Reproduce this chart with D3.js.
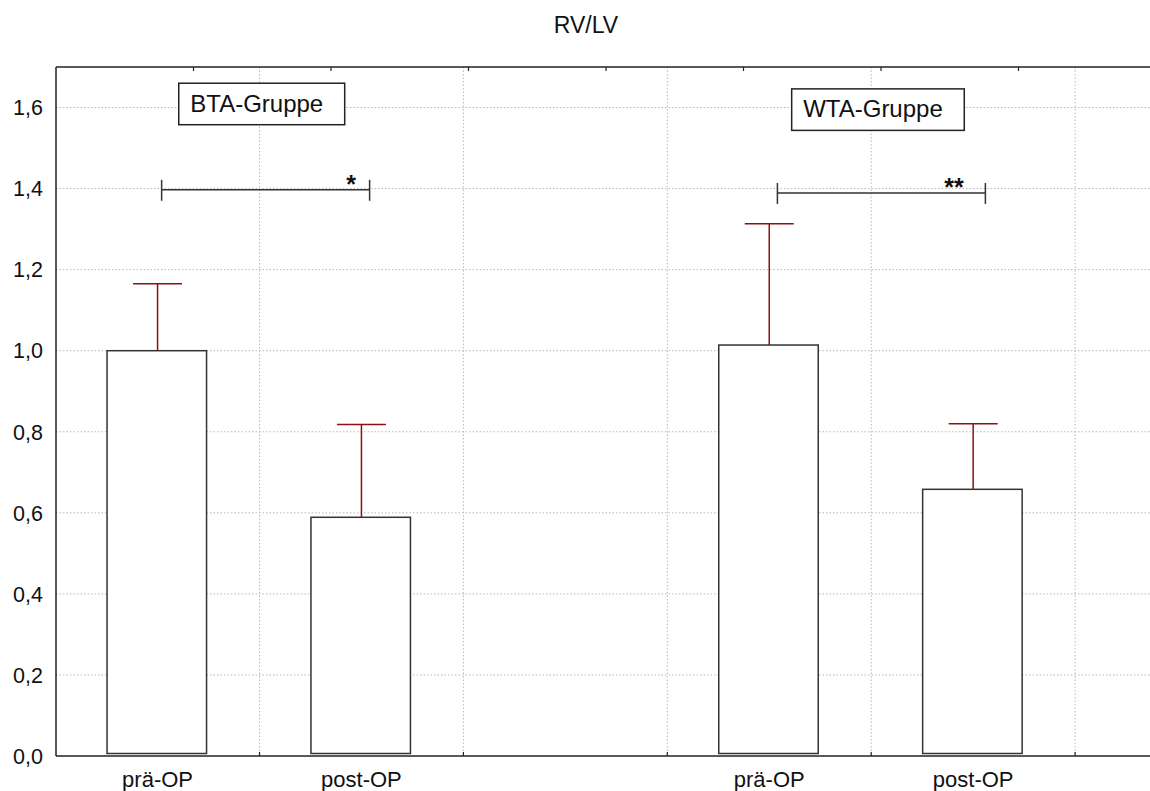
<!DOCTYPE html>
<html>
<head>
<meta charset="utf-8">
<script src="https://cdn.jsdelivr.net/npm/d3@7"></script>
<style>
  body { margin: 0; background: #fff; }
  svg { display: block; font-family: "Liberation Sans", Arial, sans-serif; }
</style>
</head>
<body>
<svg width="1150" height="791"></svg>
<script>
var width = 1150;
var height = 791;
var margin = {left: 56, top: 67, bottom: 35};

// data
var slots      = [1, 2, 4, 5];
var categories = ["prä-OP", "post-OP", "prä-OP", "post-OP"];
var means      = [1.000, 0.589, 1.014, 0.658];
var upperErr   = [1.165, 0.818, 1.313, 0.820];
var yTicks     = [0, 0.2, 0.4, 0.6, 0.8, 1.0, 1.2, 1.4, 1.6];
var xGrid      = [1.5, 2.5, 3.5, 4.5, 5.5];
var topTicks   = [1, 2, 3, 4, 5, 6, 7];

var groupNames = ["BTA-Gruppe", "WTA-Gruppe"];
var groupBoxX  = [1.104, 4.11];
var groupBoxY  = [1.660, 1.646];

var sigFrom  = [1.02, 4.04];
var sigTo    = [2.04, 5.06];
var sigLevel = [1.397, 1.389];
var sigText  = ["*", "**"];
var sigTextX = [1.949, 4.906];

// scales
var y = d3.scaleLinear().domain([0, 1.7]).range([756, margin.top]);
var x = d3.scaleLinear().domain([0.5, 1.5]).range([55.6, 259.5]);
var xTop = d3.scaleLinear().domain([0, 8]).range([56, 1156]);
var plotRight = 1160;

var svg = d3.select('svg');

// grid
svg.append('g').selectAll('line')
  .data(yTicks.filter(function (d) { return d > 0; }))
  .enter().append('line')
  .attr('x1', margin.left).attr('x2', plotRight)
  .attr('y1', function (d) { return y(d); })
  .attr('y2', function (d) { return y(d); })
  .attr('stroke', '#b8b8b8').attr('stroke-width', 1)
  .attr('stroke-dasharray', '1.5,2');

svg.append('g').selectAll('line')
  .data(xGrid)
  .enter().append('line')
  .attr('x1', function (d) { return x(d); })
  .attr('x2', function (d) { return x(d); })
  .attr('y1', y(1.7)).attr('y2', y(0))
  .attr('stroke', '#b8b8b8').attr('stroke-width', 1)
  .attr('stroke-dasharray', '1.5,2');

// bars
svg.append('g').selectAll('rect')
  .data(means)
  .enter().append('rect')
  .attr('x', function (d, i) { return x(slots[i]) - 50.5; })
  .attr('width', 99.5)
  .attr('y', function (d) { return y(d); })
  .attr('height', function (d) { return y(0) - 2.5 - y(d); })
  .attr('fill', '#fff')
  .attr('stroke', '#333').attr('stroke-width', 1.5);

// error bars
var err = svg.append('g').attr('stroke', '#8b1010').attr('stroke-width', 1.5);
err.selectAll('.stem')
  .data(upperErr)
  .enter().append('line')
  .attr('class', 'stem')
  .attr('x1', function (d, i) { return x(slots[i]); })
  .attr('x2', function (d, i) { return x(slots[i]); })
  .attr('y1', function (d, i) { return y(means[i]); })
  .attr('y2', function (d) { return y(d); });
err.selectAll('.cap')
  .data(upperErr)
  .enter().append('line')
  .attr('class', 'cap')
  .attr('x1', function (d, i) { return x(slots[i]) - 24.5; })
  .attr('x2', function (d, i) { return x(slots[i]) + 24.5; })
  .attr('y1', function (d) { return y(d); })
  .attr('y2', function (d) { return y(d); });

// frame (left, top, bottom)
var frame = svg.append('g').attr('stroke', '#222').attr('stroke-width', 1.5);
frame.append('line').attr('x1', margin.left).attr('x2', plotRight)
  .attr('y1', y(1.7)).attr('y2', y(1.7));
frame.append('line').attr('x1', margin.left).attr('x2', plotRight)
  .attr('y1', y(0)).attr('y2', y(0));
frame.append('line').attr('x1', margin.left).attr('x2', margin.left)
  .attr('y1', y(1.7)).attr('y2', y(0));

// small inward ticks
svg.append('g').selectAll('line')
  .data(topTicks)
  .enter().append('line')
  .attr('x1', function (d) { return xTop(d); })
  .attr('x2', function (d) { return xTop(d); })
  .attr('y1', y(1.7)).attr('y2', y(1.7) + 4)
  .attr('stroke', '#222').attr('stroke-width', 1.2);
svg.append('g').selectAll('line')
  .data(xGrid)
  .enter().append('line')
  .attr('x1', function (d) { return x(d); })
  .attr('x2', function (d) { return x(d); })
  .attr('y1', y(0)).attr('y2', y(0) - 4)
  .attr('stroke', '#222').attr('stroke-width', 1.2);

// y axis labels
svg.append('g').selectAll('text')
  .data(yTicks)
  .enter().append('text')
  .attr('x', margin.left - 13)
  .attr('y', function (d) { return y(d); })
  .attr('dy', '0.36em')
  .attr('text-anchor', 'end')
  .style('font-size', '21.5px')
  .attr('fill', '#111')
  .text(function (d) { return d3.format('.1f')(d).replace('.', ','); });

// x labels
svg.append('g').selectAll('text')
  .data(categories)
  .enter().append('text')
  .attr('x', function (d, i) { return x(slots[i]); })
  .attr('y', 787)
  .attr('text-anchor', 'middle')
  .style('font-size', '22px')
  .attr('fill', '#111')
  .text(function (d) { return d; });

// title
svg.append('text')
  .attr('x', 586).attr('y', 33)
  .attr('text-anchor', 'middle')
  .style('font-size', '23px')
  .attr('fill', '#111')
  .text('RV/LV');

// group boxes
groupNames.forEach(function (name, i) {
  var g = svg.append('g')
    .attr('transform', 'translate(' + x(groupBoxX[i]) + ',' + y(groupBoxY[i]) + ')');
  var t = g.append('text')
    .attr('x', 11.5).attr('y', 28.5)
    .style('font-size', '24px')
    .attr('fill', '#111')
    .text(name);
  var w = t.node().getComputedTextLength();
  g.insert('rect', 'text')
    .attr('width', w + 33).attr('height', 41.5)
    .attr('fill', '#fff')
    .attr('stroke', '#222').attr('stroke-width', 1.5);
});

// significance brackets
var br = svg.append('g').attr('stroke', '#333').attr('stroke-width', 1.5);
sigText.forEach(function (s, i) {
  var yy = y(sigLevel[i]);
  br.append('line').attr('x1', x(sigFrom[i])).attr('x2', x(sigFrom[i]))
    .attr('y1', yy - 10).attr('y2', yy + 11);
  br.append('line').attr('x1', x(sigTo[i])).attr('x2', x(sigTo[i]))
    .attr('y1', yy - 10).attr('y2', yy + 11);
  br.append('line').attr('x1', x(sigFrom[i])).attr('x2', x(sigTo[i]))
    .attr('y1', yy).attr('y2', yy);
  svg.append('text')
    .attr('x', x(sigTextX[i])).attr('y', yy + 3)
    .attr('text-anchor', 'middle')
    .style('font-size', '25px')
    .style('font-weight', 'bold')
    .attr('fill', '#111')
    .text(s);
});
</script>
</body>
</html>
